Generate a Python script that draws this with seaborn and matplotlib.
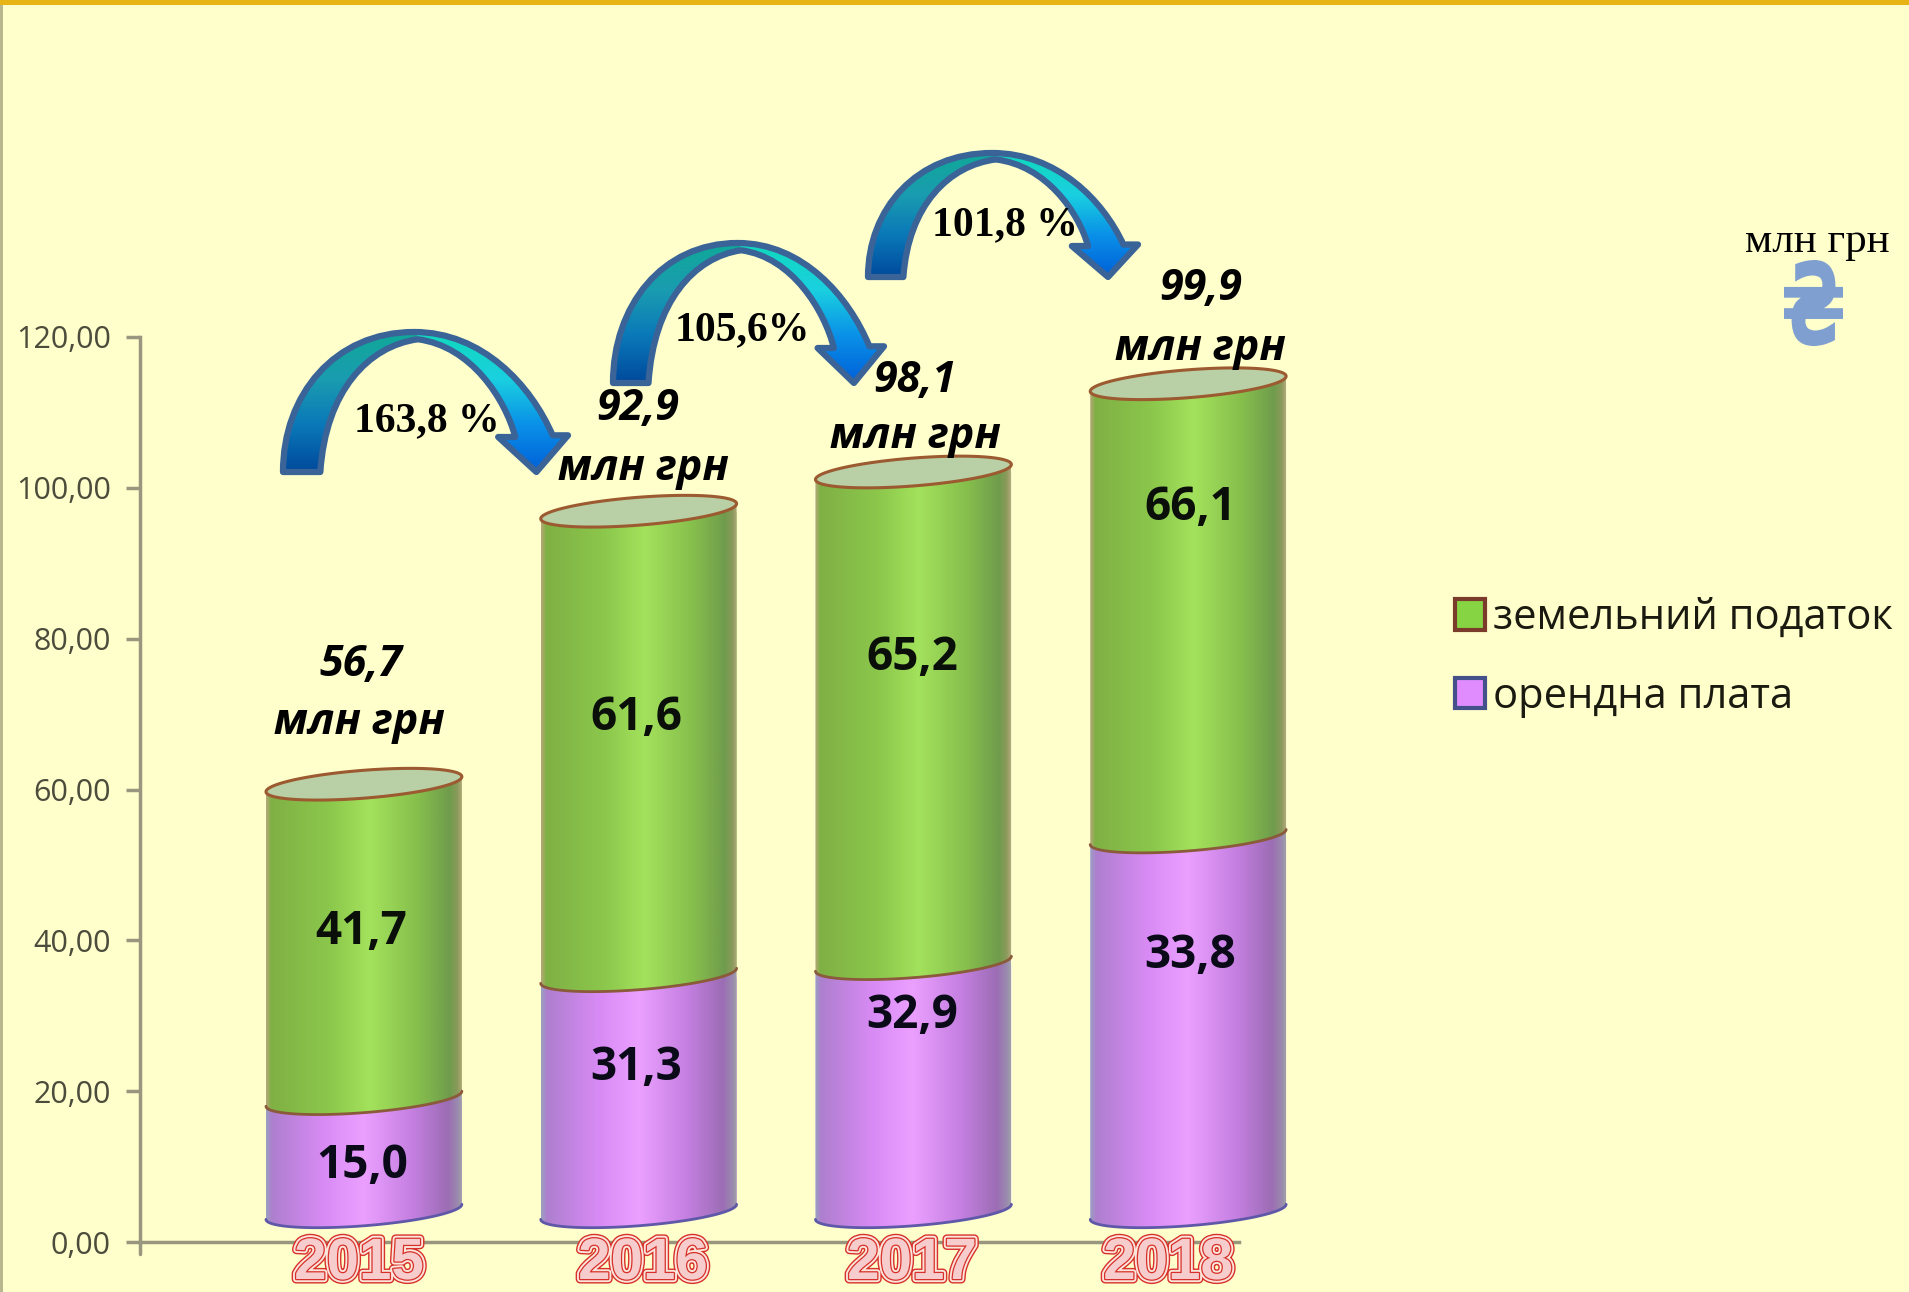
"""
Land payments chart: rent and land tax by year, drawn as fake 3D cylinders.
The 2018 cylinder is not drawn to the size of its printed labels, same as in
the original slide, so heights and label texts are kept apart.
"""

import numpy as np
import pandas as pd
import matplotlib.pyplot as plt
import matplotlib.patheffects as pe
from matplotlib.colors import LinearSegmentedColormap
from matplotlib.font_manager import FontProperties
from matplotlib.patches import PathPatch, Patch, Rectangle
from matplotlib.path import Path
from matplotlib.textpath import TextPath
from matplotlib.transforms import Affine2D
import seaborn as sns

# ── Data ──────────────────────────────────────────────────────────────────────
YEARS = ["2015", "2016", "2017", "2018"]
RENT_HEIGHT = [15.0, 31.3, 32.9, 49.7]
TAX_HEIGHT = [41.7, 61.6, 65.2, 60.1]
RENT_LABELS = ["15,0", "31,3", "32,9", "33,8"]
TAX_LABELS = ["41,7", "61,6", "65,2", "66,1"]
TOTAL_LABELS = ["56,7", "92,9", "98,1", "99,9"]
GROWTH_LABELS = ["163,8 %", "105,6%", "101,8 %"]
Y_TICKS = [0, 20, 40, 60, 80, 100, 120]
Y_TICK_LABELS = ["0,00", "20,00", "40,00", "60,00", "80,00", "100,00", "120,00"]
TAX_NAME = "земельний податок"
RENT_NAME = "орендна плата"
UNIT = "млн грн"

# ── Layout (pixels of the 1909x1292 picture) ──────────────────────────────────
W, H = 1909, 1292
DPI = 100
BG = "#FFFFCC"
AXIS_LEFT, AXIS_RIGHT, Y0_PX, Y120_PX = 140, 1239, 1242, 337
BAR_BASE = 4.0      # cylinders float above the axis
BAR_WIDTH = 0.713
TILT = 1.0          # right side of an ellipse sits this much higher
MINOR = 1.85        # ellipse half height, in y units

TAX_POS = [(361, 932), (636, 717), (912, 657), (1190, 507)]
RENT_POS = [(362, 1165), (636, 1067), (912, 1016), (1190, 955)]
TOTAL_POS = [(361, 665), (638, 409), (915, 380), (1201, 289)]
UNIT_POS = [(359, 723), (643, 468), (915, 437), (1200, 349)]
YEAR_POS = [(359, 1264), (643, 1264), (912, 1264), (1168, 1264)]
GROWTH_POS = [(427, 421), (742, 330), (1005, 225)]
# left foot x, foot y, width, height
ARROWS = [(283, 472, 285, 140), (613, 383, 271, 140), (868, 277, 270, 124)]

GREEN_CMAP = LinearSegmentedColormap.from_list("green", [
    (0.0, "#B5A878"), (0.025, "#7FB044"), (0.33, "#8CC84C"), (0.53, "#A3E25C"),
    (0.78, "#86BE4C"), (0.94, "#6F9C4C"), (0.98, "#8C9A5C"), (1.0, "#B0A878")])
PURPLE_CMAP = LinearSegmentedColormap.from_list("purple", [
    (0.0, "#9AA0C0"), (0.03, "#AE7FCF"), (0.3, "#D98BF5"), (0.5, "#EBA0FF"),
    (0.75, "#C47FE0"), (0.93, "#9C6DB5"), (0.98, "#9A8AAE"), (1.0, "#A0A0A8")])

sns.set_theme(style="white")
plt.rcParams["font.family"] = ["Open Sans", "DejaVu Sans"]

fig = plt.figure(figsize=(W / DPI, H / DPI), dpi=DPI, facecolor=BG)
ax = fig.add_axes([AXIS_LEFT / W, 1 - Y0_PX / H, (AXIS_RIGHT - AXIS_LEFT) / W, (Y0_PX - Y120_PX) / H])
ax.set_facecolor("none")

df = pd.DataFrame({"year": YEARS, "rent": RENT_HEIGHT, "tax": TAX_HEIGHT})

# ── Bars ──────────────────────────────────────────────────────────────────────
sns.barplot(data=df, x="year", y="rent", color="#D98BF5", width=BAR_WIDTH, saturation=1,
            bottom=BAR_BASE, ax=ax)
sns.barplot(data=df, x="year", y="tax", color="#8CC84C", width=BAR_WIDTH, saturation=1,
            bottom=BAR_BASE + df["rent"].to_numpy(), ax=ax)

ax.set_xlim(-0.815, 3.185)
ax.set_ylim(0, 120)


def lower_arc(cx, half_w, y, flip=False):
    t = np.linspace(0, np.pi, 60)
    xs = cx + half_w * np.cos(t)
    ys = y + TILT * np.cos(t) - MINOR * np.sin(t)
    pts = np.column_stack([xs, ys])
    return pts[::-1] if flip else pts


def draw_segment(bar, cmap):
    # the seaborn bar gives the geometry, the gradient is clipped to a cylinder side
    x0, w = bar.get_x(), bar.get_width()
    cx, half_w = x0 + w / 2, w / 2
    y0, y1 = bar.get_y(), bar.get_y() + bar.get_height()
    bottom_pts = lower_arc(cx, half_w, y0, flip=True)
    top_pts = lower_arc(cx, half_w, y1)
    pts = np.vstack([bottom_pts, top_pts, bottom_pts[:1]])
    clip = PathPatch(Path(pts), transform=ax.transData, facecolor="none", edgecolor="none", clip_on=False)
    ax.add_patch(clip)
    bar.set_clip_box(fig.bbox)
    bar.set_clip_path(clip)
    grad = np.linspace(0, 1, 256).reshape(1, -1)
    im = ax.imshow(grad, cmap=cmap, aspect="auto", zorder=3,
                   extent=(x0, x0 + w, y0 - 4, y1 + 2), interpolation="bilinear")
    # 2018 runs past the end of the axis line, as in the slide
    im.set_clip_box(fig.bbox)
    im.set_clip_path(clip)
    return cx, half_w, y0, y1


rent_bars = ax.containers[0]
tax_bars = ax.containers[1]
for rb, tb in zip(rent_bars, tax_bars):
    cx, half_w, y0, y1 = draw_segment(rb, PURPLE_CMAP)
    ax.plot(*lower_arc(cx, half_w, y0).T, color="#5F58A8", lw=2, zorder=4, clip_on=False)
    cx, half_w, y0, y1 = draw_segment(tb, GREEN_CMAP)
    ax.plot(*lower_arc(cx, half_w, y0).T, color="#8A5A3A", lw=2, zorder=4, clip_on=False)
    # open top of the cylinder
    t = np.linspace(0, 2 * np.pi, 120)
    ax.fill(cx + half_w * np.cos(t), y1 + TILT * np.cos(t) - MINOR * np.sin(t),
            facecolor="#B9CFA5", edgecolor="#9C5A30", lw=2.2, zorder=5, clip_on=False)

ax.set_xlim(-0.815, 3.185)
ax.set_ylim(0, 120)

# ── Axes ──────────────────────────────────────────────────────────────────────
AXIS_COLOR = "#98967E"
sns.despine(ax=ax)
for side in ["left", "bottom"]:
    ax.spines[side].set_color(AXIS_COLOR)
    ax.spines[side].set_linewidth(2.5)
ax.set_xlabel("")
ax.set_ylabel("")
ax.set_xticks([])
ax.set_yticks(Y_TICKS)
ax.set_yticklabels(Y_TICK_LABELS, fontsize=22, color="#4C4C3C")
ax.tick_params(axis="y", length=10, width=2.5, color=AXIS_COLOR, pad=11, left=True)

# ── Overlay in picture pixels ─────────────────────────────────────────────────
ov = fig.add_axes([0, 0, 1, 1], zorder=5)
ov.set_xlim(0, W)
ov.set_ylim(H, 0)
ov.axis("off")

ov.add_patch(Rectangle((0, 0), W, 5, color="#E6B414", lw=0))
ov.add_patch(Rectangle((0, 5), 2.5, H, color="#B8B68E", lw=0))
ov.plot([AXIS_LEFT, AXIS_LEFT], [Y0_PX, 1254], color=AXIS_COLOR, lw=2.5)

for (x, y), s in zip(TAX_POS, TAX_LABELS):
    ov.text(x, y, s, ha="center", va="center", fontsize=33, fontweight="bold", color="#0A0F0A")
for (x, y), s in zip(RENT_POS, RENT_LABELS):
    ov.text(x, y, s, ha="center", va="center", fontsize=33, fontweight="bold", color="#0A0A18")
for (x, y), s in zip(TOTAL_POS, TOTAL_LABELS):
    ov.text(x, y, s, ha="center", va="center", fontsize=31, fontweight="bold", style="italic", color="black")
for (x, y) in UNIT_POS:
    ov.text(x, y, UNIT, ha="center", va="center", fontsize=31, fontweight="bold", style="italic", color="black")

year_fx = [pe.Stroke(linewidth=6.5, foreground="#D8302A"), pe.Stroke(linewidth=4.5, foreground="#FBE6DC"),
           pe.Stroke(linewidth=1.8, foreground="#D8302A"), pe.Normal()]
for (x, y), s in zip(YEAR_POS, YEARS):
    t = ov.text(x, y, s, ha="center", va="center", fontsize=42, fontweight="bold",
                family="Liberation Sans", color="#F6CCCC")
    t.set_path_effects(year_fx)

# ── Curved arrows ─────────────────────────────────────────────────────────────
ARROW_VERTS = [(0, 0), (0, 0.55), (0.18, 1.0), (0.46, 1.0),
               (0.70, 1.0), (0.87, 0.62), (0.946, 0.262),
               (1.0, 0.262), (0.889, 0), (0.755, 0.25), (0.815, 0.25),
               (0.78, 0.52), (0.66, 0.90), (0.473, 0.948),
               (0.30, 0.90), (0.15, 0.58), (0.131, 0), (0, 0)]
ARROW_CODES = [Path.MOVETO, Path.CURVE4, Path.CURVE4, Path.CURVE4,
               Path.CURVE4, Path.CURVE4, Path.CURVE4,
               Path.LINETO, Path.LINETO, Path.LINETO, Path.LINETO,
               Path.CURVE4, Path.CURVE4, Path.CURVE4,
               Path.CURVE4, Path.CURVE4, Path.CURVE4, Path.CLOSEPOLY]
LEFT_CMAP = LinearSegmentedColormap.from_list("al", ["#004A9C", "#0A78B8", "#1A9CB0", "#10A898"])
RIGHT_CMAP = LinearSegmentedColormap.from_list("ar", ["#0060D8", "#0A90E8", "#1AD0E0", "#10D8BC"])

for x, foot, w, h in ARROWS:
    verts = [(x + u * w, foot - v * h) for u, v in ARROW_VERTS]
    shape = PathPatch(Path(verts, ARROW_CODES), facecolor="none", edgecolor="#3A6498", lw=4.5, zorder=4, joinstyle="round")
    ov.add_patch(shape)
    ramp = np.linspace(0, 1, 128).reshape(-1, 1)
    for cmap, ext in [(LEFT_CMAP, (x, x + 0.47 * w)), (RIGHT_CMAP, (x + 0.47 * w, x + w))]:
        im = ov.imshow(ramp, cmap=cmap, aspect="auto", origin="lower", zorder=3,
                       extent=(ext[0], ext[1], foot, foot - h), interpolation="bilinear")
        im.set_clip_path(shape)
ov.set_xlim(0, W)
ov.set_ylim(H, 0)

for (x, y), s in zip(GROWTH_POS, GROWTH_LABELS):
    ov.text(x, y, s, ha="center", va="center", fontsize=30, fontweight="bold",
            family="Liberation Serif", color="black", zorder=6)

# ── Unit note and legend ──────────────────────────────────────────────────────
ov.text(1817, 242, UNIT, ha="center", va="center", fontsize=31, family="Liberation Serif", color="black")

# the hryvnia sign is squeezed narrower than the font draws it
glyph = TextPath((0, 0), "₴", size=100, prop=FontProperties(family="DejaVu Sans", weight="bold"))
gb = glyph.get_extents()
fit = (Affine2D().translate(-gb.x0, -gb.y1).scale(59 / gb.width, -86 / gb.height).translate(1784, 260))
ov.add_patch(PathPatch(fit.transform_path(glyph), facecolor="#7F9FD0", edgecolor="none"))

handles = [Patch(facecolor="#86D444", edgecolor="#7A3B2A", lw=3, label=TAX_NAME),
           Patch(facecolor="#E08CFF", edgecolor="#44508A", lw=3, label=RENT_NAME)]
ax.legend(handles=handles, loc="upper left", bbox_to_anchor=(1455 / W, 1 - 597 / H),
          bbox_transform=fig.transFigure, frameon=False, fontsize=30, handlelength=0.72,
          handleheight=0.75, handletextpad=0.2, labelspacing=0.88, borderpad=0, borderaxespad=0,
          labelcolor="#1A1A10")

plt.savefig("out.png", dpi=DPI, facecolor=BG)
plt.close()
